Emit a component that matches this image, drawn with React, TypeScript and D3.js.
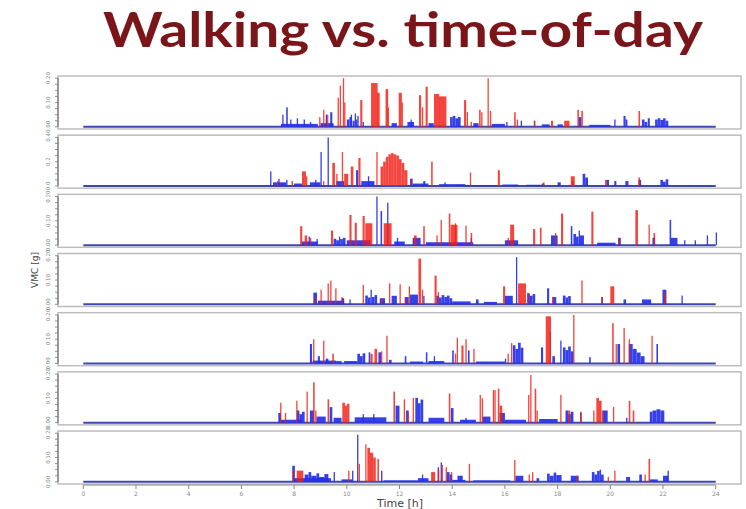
import React from "react";
import * as d3 from "d3";

// Walking bouts per day: [start hour, duration in hours, VMC in g]
const blueDay1 = [
  [7.5, 1.4, 0.012], [7.55, 0.05, 0.05], [7.7, 0.06, 0.08], [7.85, 0.05, 0.03], [8.1, 0.05, 0.035], [8.36, 0.05, 0.03], [8.6, 0.05, 0.02],
  [9.0, 0.5, 0.015], [9.2, 0.05, 0.05], [9.37, 0.08, 0.06], [10.0, 0.1, 0.03], [10.1, 0.08, 0.04], [10.15, 0.05, 0.05], [10.22, 0.08, 0.025],
  [10.3, 0.05, 0.055], [10.35, 0.05, 0.03], [10.4, 0.05, 0.045],
  [10.6, 0.05, 0.02], [11.7, 0.2, 0.015], [12.3, 0.25, 0.02], [12.42, 0.05, 0.03], [13.1, 0.2, 0.015],
  [13.92, 0.1, 0.04], [14.02, 0.1, 0.045], [14.12, 0.1, 0.035], [14.22, 0.1, 0.04],
  [14.8, 0.2, 0.015], [15.5, 0.5, 0.012], [16.05, 0.05, 0.02], [16.6, 0.05, 0.025], [17.1, 0.05, 0.025], [17.4, 0.3, 0.01], [18.0, 0.2, 0.01],
  [18.8, 0.1, 0.04], [19.2, 0.8, 0.008], [20.15, 0.05, 0.03], [20.5, 0.08, 0.045], [20.58, 0.07, 0.03], [21.2, 0.1, 0.03], [21.3, 0.1, 0.02],
  [21.42, 0.08, 0.035], [21.7, 0.1, 0.03], [21.8, 0.1, 0.035], [21.9, 0.1, 0.028], [22.0, 0.1, 0.035], [22.1, 0.1, 0.025],
];
const redDay1 = [
  [8.95, 0.05, 0.04], [9.1, 0.05, 0.07], [9.25, 0.05, 0.05], [9.65, 0.05, 0.12], [9.73, 0.05, 0.17], [9.85, 0.05, 0.2], [9.9, 0.05, 0.1],
  [10.51, 0.08, 0.11], [10.92, 0.25, 0.18], [11.15, 0.1, 0.14], [11.47, 0.1, 0.155], [11.55, 0.05, 0.08], [11.97, 0.12, 0.14], [12.08, 0.05, 0.1],
  [12.74, 0.08, 0.13], [12.85, 0.05, 0.08], [12.99, 0.08, 0.165], [13.31, 0.2, 0.135], [13.5, 0.28, 0.125],
  [14.45, 0.08, 0.11], [14.55, 0.05, 0.06], [14.7, 0.05, 0.02], [15.02, 0.06, 0.07], [15.1, 0.05, 0.06], [15.34, 0.03, 0.2], [15.43, 0.05, 0.065],
  [16.35, 0.06, 0.06], [16.45, 0.04, 0.03], [17.1, 0.05, 0.025], [17.75, 0.08, 0.025], [18.25, 0.2, 0.025], [18.75, 0.06, 0.07], [18.9, 0.06, 0.065], [21.07, 0.06, 0.065],
];

const blueDay2 = [
  [7.09, 0.05, 0.12], [7.2, 0.5, 0.03], [7.4, 0.05, 0.06], [7.7, 0.05, 0.05], [8.0, 0.3, 0.02], [8.6, 0.4, 0.03], [8.8, 0.05, 0.05],
  [9.0, 0.04, 0.28], [9.27, 0.04, 0.4], [9.6, 0.3, 0.04], [10.35, 0.08, 0.13], [10.55, 0.5, 0.04], [10.8, 0.05, 0.08], [12.4, 0.1, 0.06],
  [12.5, 0.6, 0.02], [12.9, 0.08, 0.04], [13.5, 1.0, 0.015], [13.7, 0.05, 0.03], [14.3, 1.4, 0.008], [15.9, 0.6, 0.012], [16.8, 0.6, 0.01],
  [17.4, 0.1, 0.02], [18.0, 0.12, 0.03], [18.55, 0.05, 0.04], [18.95, 0.1, 0.1], [19.05, 0.1, 0.07], [19.1, 0.05, 0.06], [19.85, 0.1, 0.05],
  [20.15, 0.08, 0.04], [20.57, 0.12, 0.04], [21.07, 0.1, 0.05], [21.9, 0.1, 0.05], [22.0, 0.1, 0.035], [22.1, 0.1, 0.055], [23.0, 0.05, 0.008],
];
const redDay2 = [
  [7.35, 0.05, 0.04], [7.9, 0.06, 0.04], [8.3, 0.15, 0.12], [8.45, 0.05, 0.08], [9.1, 0.05, 0.04], [9.45, 0.1, 0.19], [9.6, 0.05, 0.1],
  [9.81, 0.03, 0.28], [9.9, 0.15, 0.1], [10.15, 0.1, 0.16], [10.44, 0.08, 0.23], [11.12, 0.05, 0.28],
  [11.28, 0.1, 0.16], [11.38, 0.1, 0.2], [11.48, 0.1, 0.24], [11.58, 0.1, 0.26], [11.68, 0.1, 0.27], [11.78, 0.1, 0.26], [11.88, 0.1, 0.25],
  [11.98, 0.1, 0.22], [12.08, 0.1, 0.19], [12.18, 0.12, 0.13],
  [12.4, 0.05, 0.05], [13.2, 0.06, 0.2], [14.67, 0.05, 0.11], [15.73, 0.08, 0.13], [17.45, 0.05, 0.03], [18.5, 0.15, 0.08], [19.8, 0.06, 0.05], [21.07, 0.06, 0.07],
];

const blueDay3 = [
  [8.3, 0.6, 0.015], [8.55, 0.05, 0.035], [8.85, 0.05, 0.025], [9.5, 0.1, 0.026], [9.6, 0.1, 0.02], [9.7, 0.05, 0.035], [9.75, 0.1, 0.025],
  [9.85, 0.1, 0.03], [10.0, 0.9, 0.02], [11.12, 0.04, 0.2],
  [11.28, 0.06, 0.14], [11.53, 0.05, 0.175], [11.8, 0.4, 0.015], [11.9, 0.05, 0.03], [12.5, 0.3, 0.03], [13.0, 1.8, 0.012], [14.7, 0.05, 0.03],
  [16.0, 0.5, 0.02], [17.75, 0.25, 0.04], [18.5, 0.06, 0.078], [18.6, 0.1, 0.046], [18.7, 0.1, 0.035], [18.8, 0.05, 0.06], [18.85, 0.15, 0.04],
  [19.5, 0.7, 0.01], [20.3, 0.1, 0.03],
  [21.6, 0.1, 0.03], [22.25, 0.06, 0.104], [22.3, 0.25, 0.03], [22.8, 0.05, 0.02], [23.2, 0.05, 0.02], [23.66, 0.05, 0.04], [24.0, 0.04, 0.052],
];
const redDay3 = [
  [8.23, 0.08, 0.078], [8.4, 0.1, 0.04], [8.6, 0.05, 0.03], [9.4, 0.08, 0.06], [10.1, 0.08, 0.124], [10.3, 0.08, 0.092], [10.6, 0.08, 0.12],
  [10.7, 0.27, 0.09], [11.4, 0.3, 0.09], [12.55, 0.1, 0.04], [12.9, 0.06, 0.078], [13.4, 0.05, 0.04], [13.56, 0.05, 0.104], [13.87, 0.06, 0.13],
  [13.94, 0.26, 0.084], [14.1, 0.05, 0.09], [14.5, 0.05, 0.08], [14.7, 0.06, 0.05], [16.1, 0.05, 0.03], [16.2, 0.15, 0.084], [17.07, 0.08, 0.066],
  [17.33, 0.06, 0.072], [17.9, 0.05, 0.05], [18.13, 0.08, 0.13], [19.28, 0.08, 0.138], [20.3, 0.05, 0.03], [20.95, 0.1, 0.144], [21.45, 0.05, 0.084], [21.64, 0.06, 0.05],
];

const blueDay4 = [
  [8.73, 0.14, 0.048], [8.9, 1.0, 0.015], [9.8, 0.1, 0.025], [10.1, 0.05, 0.02], [10.7, 0.1, 0.036], [10.8, 0.1, 0.028], [10.9, 0.05, 0.06],
  [10.95, 0.1, 0.03], [11.05, 0.1, 0.038], [11.25, 0.2, 0.025],
  [11.7, 0.2, 0.035], [12.2, 0.15, 0.03], [12.4, 0.3, 0.04], [12.9, 0.05, 0.035], [13.4, 0.1, 0.035], [13.5, 0.1, 0.028], [13.6, 0.1, 0.038],
  [13.7, 0.1, 0.03], [13.8, 0.1, 0.036], [13.9, 0.1, 0.025], [14.0, 0.7, 0.012], [14.9, 0.1, 0.02],
  [15.2, 0.5, 0.01], [16.0, 0.3, 0.035], [16.42, 0.04, 0.194], [16.85, 0.1, 0.045], [16.95, 0.1, 0.035], [17.05, 0.1, 0.042], [17.6, 0.08, 0.066],
  [17.8, 0.15, 0.03], [18.2, 0.1, 0.036], [18.3, 0.1, 0.028], [18.4, 0.1, 0.034],
  [19.66, 0.06, 0.03], [20.5, 0.1, 0.02], [21.2, 0.35, 0.02], [21.98, 0.15, 0.06], [22.7, 0.04, 0.036],
];
const redDay4 = [
  [8.8, 0.05, 0.03], [9.0, 0.05, 0.06], [9.27, 0.04, 0.086], [9.37, 0.04, 0.098], [9.56, 0.05, 0.066], [9.8, 0.05, 0.03], [10.6, 0.05, 0.08],
  [11.3, 0.05, 0.025], [11.6, 0.05, 0.086], [12.0, 0.05, 0.082], [12.2, 0.05, 0.025], [12.35, 0.05, 0.074], [12.72, 0.1, 0.188], [12.85, 0.05, 0.06],
  [13.33, 0.08, 0.118], [13.45, 0.05, 0.05], [15.93, 0.08, 0.074], [16.5, 0.3, 0.086], [16.85, 0.05, 0.048], [17.8, 0.05, 0.03], [18.9, 0.05, 0.098],
  [19.66, 0.05, 0.03], [20.0, 0.15, 0.074], [22.05, 0.06, 0.05],
];

const blueDay5 = [
  [8.6, 0.08, 0.08], [8.7, 0.9, 0.012], [8.9, 0.08, 0.03], [9.2, 0.1, 0.02], [9.6, 0.2, 0.01], [9.9, 0.5, 0.01], [10.4, 0.1, 0.04],
  [10.5, 0.1, 0.03], [10.6, 0.1, 0.042],
  [10.83, 0.06, 0.046], [11.2, 0.1, 0.046], [11.6, 0.1, 0.015], [12.2, 0.06, 0.03], [12.4, 0.5, 0.008], [13.0, 0.06, 0.046], [13.1, 0.6, 0.01],
  [13.3, 0.05, 0.03], [14.0, 0.06, 0.054], [14.6, 0.06, 0.054], [14.9, 1.1, 0.008], [16.0, 0.05, 0.02], [16.3, 0.1, 0.075], [16.4, 0.1, 0.06],
  [16.5, 0.1, 0.085], [16.6, 0.1, 0.065], [17.37, 0.08, 0.066],
  [17.8, 0.1, 0.03], [18.1, 0.04, 0.094], [18.2, 0.1, 0.066], [18.3, 0.1, 0.055], [18.4, 0.1, 0.07], [18.5, 0.1, 0.05],
  [19.2, 0.06, 0.026], [20.27, 0.1, 0.08], [20.7, 0.15, 0.08], [20.85, 0.15, 0.06],
  [21.0, 0.15, 0.045], [21.15, 0.15, 0.03], [21.75, 0.06, 0.08],
];
const redDay5 = [
  [8.72, 0.05, 0.1], [9.1, 0.05, 0.094], [9.45, 0.06, 0.04], [10.9, 0.08, 0.04], [11.05, 0.1, 0.06], [11.3, 0.05, 0.05], [11.5, 0.05, 0.114],
  [14.1, 0.05, 0.04], [14.17, 0.05, 0.106], [14.35, 0.08, 0.074], [14.5, 0.05, 0.1], [14.8, 0.05, 0.06], [16.1, 0.05, 0.04], [16.23, 0.05, 0.084],
  [17.55, 0.2, 0.194], [17.7, 0.04, 0.13], [18.59, 0.05, 0.2], [20.07, 0.06, 0.166], [20.2, 0.05, 0.08], [20.5, 0.05, 0.146], [20.7, 0.05, 0.1], [21.56, 0.05, 0.114],
];

const blueDay6 = [
  [7.4, 0.1, 0.04], [7.5, 0.8, 0.012], [8.1, 0.1, 0.05], [8.2, 0.1, 0.035], [8.3, 0.1, 0.045], [8.6, 0.15, 0.05], [8.85, 0.35, 0.025],
  [9.35, 0.1, 0.064], [9.5, 0.3, 0.02],
  [10.3, 1.2, 0.022], [10.6, 0.05, 0.035], [11.0, 0.05, 0.035], [11.85, 0.15, 0.07], [12.25, 0.1, 0.05], [12.6, 0.1, 0.102], [12.7, 0.1, 0.08],
  [12.8, 0.1, 0.095], [13.1, 0.6, 0.02],
  [13.95, 0.1, 0.06], [14.3, 0.6, 0.012], [14.5, 0.05, 0.02], [15.15, 0.3, 0.025], [15.8, 0.2, 0.04], [16.0, 0.8, 0.012], [17.3, 0.7, 0.015],
  [18.3, 0.1, 0.05], [18.4, 0.1, 0.035], [18.5, 0.1, 0.045], [18.85, 0.06, 0.04], [19.7, 0.2, 0.05], [20.6, 0.05, 0.02],
  [21.5, 0.1, 0.045], [21.6, 0.15, 0.05], [21.75, 0.15, 0.055], [21.9, 0.15, 0.05],
];
const redDay6 = [
  [7.47, 0.05, 0.082], [7.65, 0.05, 0.04], [8.08, 0.05, 0.09], [8.47, 0.05, 0.128], [8.72, 0.06, 0.166], [8.8, 0.05, 0.05], [9.27, 0.06, 0.096],
  [9.83, 0.1, 0.082], [9.93, 0.08, 0.07], [10.01, 0.09, 0.078], [11.77, 0.06, 0.128], [12.16, 0.05, 0.096], [12.3, 0.05, 0.04], [12.5, 0.05, 0.102],
  [13.87, 0.06, 0.12], [15.04, 0.05, 0.114],
  [15.12, 0.04, 0.1], [15.54, 0.05, 0.134], [15.6, 0.05, 0.134], [15.73, 0.06, 0.14], [15.8, 0.1, 0.07], [16.88, 0.05, 0.114], [16.96, 0.05, 0.196],
  [17.13, 0.06, 0.14], [17.2, 0.05, 0.05], [18.1, 0.05, 0.114], [18.4, 0.08, 0.05], [18.85, 0.06, 0.045], [19.35, 0.05, 0.05], [19.47, 0.1, 0.102],
  [19.57, 0.1, 0.09], [19.7, 0.05, 0.05], [20.1, 0.05, 0.064], [20.7, 0.06, 0.09], [20.85, 0.06, 0.05],
];

const blueDay7 = [
  [7.93, 0.1, 0.066], [8.0, 1.4, 0.015], [8.4, 0.15, 0.03], [8.55, 0.1, 0.04], [8.65, 0.2, 0.025], [8.85, 0.1, 0.035], [8.95, 0.2, 0.02],
  [9.15, 0.15, 0.032], [9.5, 0.05, 0.04], [9.8, 0.4, 0.01], [10.2, 0.05, 0.046], [10.39, 0.04, 0.194],
  [11.3, 0.05, 0.046], [11.4, 1.3, 0.006], [12.7, 0.4, 0.015], [12.85, 0.05, 0.03], [13.45, 0.05, 0.06], [13.56, 0.05, 0.08], [13.8, 0.1, 0.04],
  [13.9, 0.1, 0.03], [14.0, 0.5, 0.008],
  [14.2, 0.2, 0.025], [14.8, 1.4, 0.006], [16.4, 0.3, 0.025], [17.2, 0.1, 0.015], [17.6, 0.1, 0.034], [17.7, 0.15, 0.025], [17.85, 0.1, 0.038],
  [17.95, 0.2, 0.028], [18.5, 0.3, 0.025], [19.3, 0.1, 0.04], [19.4, 0.1, 0.03], [19.5, 0.1, 0.045],
  [19.6, 0.05, 0.05], [19.65, 0.1, 0.03], [20.6, 0.15, 0.02], [21.1, 0.1, 0.03], [21.5, 0.3, 0.01], [22.0, 0.2, 0.025], [22.17, 0.05, 0.046],
];
const redDay7 = [
  [7.95, 0.05, 0.05], [8.1, 0.25, 0.046], [10.05, 0.05, 0.046], [10.45, 0.05, 0.074], [10.7, 0.05, 0.154], [10.78, 0.1, 0.14], [10.88, 0.12, 0.12],
  [11.0, 0.1, 0.1], [11.16, 0.06, 0.094], [13.2, 0.15, 0.04], [13.45, 0.06, 0.05], [13.6, 0.05, 0.07], [13.75, 0.05, 0.06], [13.95, 0.05, 0.04],
  [14.63, 0.04, 0.074], [16.35, 0.05, 0.09], [16.9, 0.05, 0.03], [17.03, 0.05, 0.04], [18.7, 0.05, 0.025], [19.9, 0.05, 0.02], [20.15, 0.04, 0.046],
  [21.3, 0.05, 0.03], [21.45, 0.06, 0.094],
];

const blueSeries = [blueDay1, blueDay2, blueDay3, blueDay4, blueDay5, blueDay6, blueDay7];
const redSeries = [redDay1, redDay2, redDay3, redDay4, redDay5, redDay6, redDay7];
const yMaxima = [0.2, 0.4, 0.2, 0.2, 0.2, 0.2, 0.2];
const yTickSets = [
  [0, 0.1, 0.2], [0, 0.2, 0.4], [0, 0.1, 0.2], [0, 0.1, 0.2], [0, 0.1, 0.2], [0, 0.1, 0.2], [0, 0.1, 0.2],
];
const hourTicks = [0, 2, 4, 6, 8, 10, 12, 14, 16, 18, 20, 22, 24];

const TITLE = "Walking vs. time-of-day";
const Y_LABEL = "VMC [g]";
const X_LABEL = "Time [h]";

const W = 746;
const H = 509;
const frameLeft = 58;
const frameRight = 741;
const firstTop = 76;
const panelStep = 59.17;
const panelH = 53;

const BLUE = "#2430e6";
const RED = "#f01c12";

export default function App() {
  const x = d3.scaleLinear().domain([-0.96, 24.96]).range([frameLeft, frameRight]);
  const fmt2 = d3.format(".2f");
  const fmt1 = d3.format(".1f");

  const lastBottom = firstTop + 6 * panelStep + panelH;

  return (
    <svg width={W} height={H} style={{ position: "absolute", left: 0, top: 0, background: "#fff" }}>
      <text
        x={403}
        y={47}
        textAnchor="middle"
        fontFamily="Lato, 'Open Sans', sans-serif"
        fontWeight={700}
        fontSize={48}
        fill="#7a1519"
        textLength={600}
        lengthAdjust="spacingAndGlyphs"
      >
        {TITLE}
      </text>

      {blueSeries.map((blue, i) => {
        const top = firstTop + i * panelStep;
        const bottom = top + panelH;
        const yMax = yMaxima[i];
        const y = d3.scaleLinear().domain([0, yMax]).range([bottom - 2.2, top + 2.2]);
        const red = redSeries[i];
        const minor = d3.range(0, yMax + 1e-9, yMax / 8);
        const fmt = yMax >= 0.4 ? fmt1 : fmt2;
        const bar = (d: number[], k: number, color: string, op: number) => {
          const x0 = x(d[0]);
          const w = Math.max(1.3, x(d[0] + d[1]) - x0);
          return (
            <rect key={k} x={x0} y={y(d[2])} width={w} height={y(0) - y(d[2])} fill={color} fillOpacity={op} />
          );
        };
        return (
          <g key={i}>
            <rect x={frameLeft} y={top} width={frameRight - frameLeft} height={panelH} fill="#fff" stroke="#bdbdbd" strokeWidth={1.5} />
            <line x1={x(0)} x2={x(24)} y1={y(0)} y2={y(0)} stroke="#3e46b0" strokeWidth={2} />
            {blue.map((d, k) => bar(d, k, BLUE, 0.92))}
            {red.map((d, k) => bar(d, k, RED, 0.82))}
            <line x1={frameLeft} x2={frameLeft} y1={y(0)} y2={y(yMax)} stroke="#666" strokeWidth={1} />
            {minor.map((t, k) => (
              <line key={k} x1={frameLeft - 3} x2={frameLeft} y1={y(t)} y2={y(t)} stroke="#777" strokeWidth={0.8} />
            ))}
            {yTickSets[i].map((t, k) => (
              <text
                key={k}
                transform={`translate(${frameLeft - 8},${y(t)}) rotate(-90)`}
                textAnchor="middle"
                fontFamily="'DejaVu Sans', sans-serif"
                fontSize={5.5}
                fill="#8a8a8a"
              >
                {fmt(t)}
              </text>
            ))}
          </g>
        );
      })}

      {/* shared time axis */}
      <line x1={x(0)} x2={x(24)} y1={lastBottom + 1} y2={lastBottom + 1} stroke="#888" strokeWidth={1} />
      {hourTicks.map((h) => (
        <g key={h}>
          <line x1={x(h)} x2={x(h)} y1={lastBottom + 1} y2={lastBottom + 5} stroke="#888" strokeWidth={1} />
          <text
            x={x(h)}
            y={lastBottom + 12}
            textAnchor="middle"
            fontFamily="'DejaVu Sans', sans-serif"
            fontSize={6}
            fill="#8a8a8a"
          >
            {h}
          </text>
        </g>
      ))}
      <text x={400} y={507} textAnchor="middle" fontFamily="'DejaVu Sans', sans-serif" fontSize={11} fill="#444">
        {X_LABEL}
      </text>
      <text
        transform={`translate(38,270) rotate(-90)`}
        textAnchor="middle"
        fontFamily="'DejaVu Sans', sans-serif"
        fontSize={9}
        fill="#444"
      >
        {Y_LABEL}
      </text>
    </svg>
  );
}
